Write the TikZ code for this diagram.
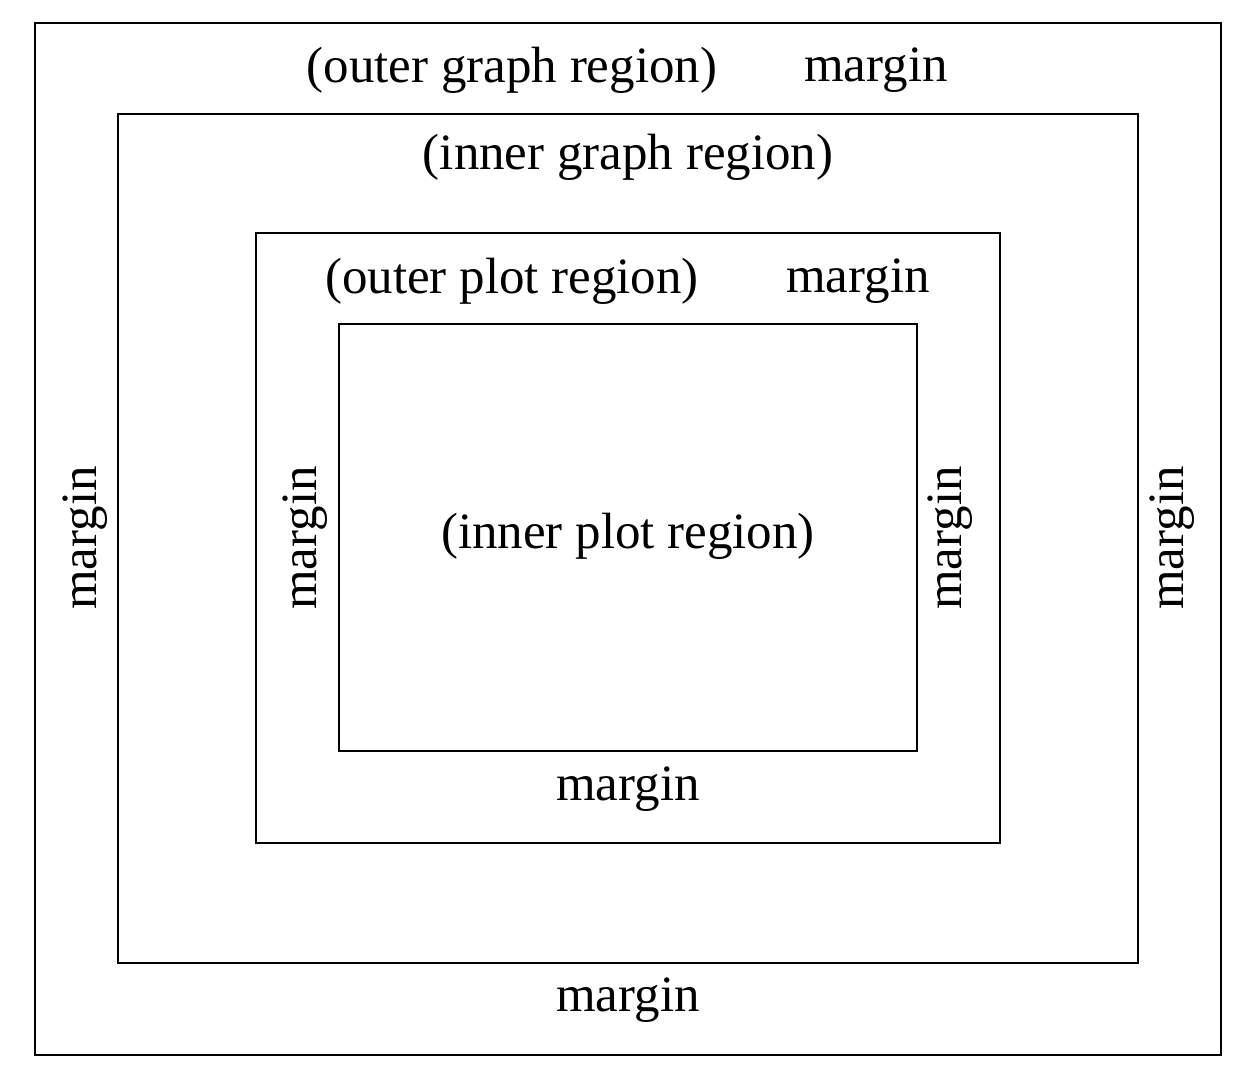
\documentclass[tikz,border=0pt]{standalone}
\usepackage{fontspec}
\setmainfont{Liberation Serif}
\usetikzlibrary{positioning}
\tikzstyle{region}=[draw, line width=1.1pt]
\tikzstyle{lbl}=[inner sep=0pt, font=\fontsize{29}{34}\selectfont]
\begin{document}
\begin{tikzpicture}[x=0.02cm,y=-0.02cm]
    \useasboundingbox (0,0) rectangle (1240,1073);

    \draw[region] (35,23) rectangle (1221,1055);
    \draw[region] (118,114) rectangle (1138,963);
    \draw[region] (256,233) rectangle (1000,843);
    \draw[region] (339,324) rectangle (917,751);

    \node (OuterGraph) [lbl] at (512,70) {(outer graph region)};
    \node (OuterGraphM) [lbl] at (876,70) {margin};
    \node (InnerGraph) [lbl] at (628,157) {(inner graph region)};
    \node (OuterPlot) [lbl] at (512,281) {(outer plot region)};
    \node (OuterPlotM) [lbl] at (858,281) {margin};
    \node (InnerPlot) [lbl] at (628,536) {(inner plot region)};
    \node (PlotBottom) [lbl] at (628,789) {margin};
    \node (GraphBottom) [lbl] at (628,1000) {margin};

    \node (GraphLeft) [lbl, rotate=90] at (85,538) {margin};
    \node (PlotLeft) [lbl, rotate=90] at (305,538) {margin};
    \node (PlotRight) [lbl, rotate=90] at (950,538) {margin};
    \node (GraphRight) [lbl, rotate=90] at (1172,538) {margin};
\end{tikzpicture}
\end{document}
